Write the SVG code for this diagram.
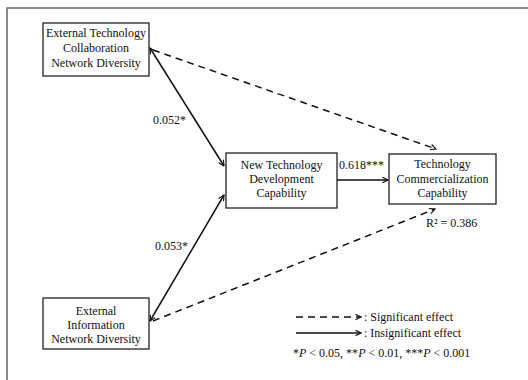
<svg xmlns="http://www.w3.org/2000/svg" width="528" height="380" viewBox="0 0 528 380">
<defs>
<marker id="ah" viewBox="0 0 10 10" refX="9" refY="5" markerWidth="7" markerHeight="7" orient="auto-start-reverse" markerUnits="userSpaceOnUse">
<path d="M1,1 L9,5 L1,9" fill="none" stroke="#111" stroke-width="1.6"/>
</marker>
</defs>
<style>
.box{fill:#fff;stroke:#222;stroke-width:1.3}
.t{font-family:"Liberation Serif","Times New Roman",serif;font-size:12px;fill:#111}
.c{text-anchor:middle}
.sol{stroke:#111;stroke-width:1.5;fill:none}
.dash{stroke:#111;stroke-width:1.5;fill:none;stroke-dasharray:7 5}
</style>
<rect width="528" height="380" fill="#fff"/>
<path d="M7,380 L7,8 L528,8" fill="none" stroke="#666" stroke-width="1.5"/>
<g id="connectors">
<line class="sol" x1="150" y1="48" x2="224" y2="166" marker-start="url(#ah)" marker-end="url(#ah)"/>
<line class="sol" x1="150" y1="321" x2="224" y2="195" marker-start="url(#ah)" marker-end="url(#ah)"/>
<line class="dash" x1="153" y1="50" x2="436" y2="149" marker-end="url(#ah)"/>
<line class="dash" x1="153" y1="321" x2="435" y2="209" marker-end="url(#ah)"/>
<line class="sol" x1="337" y1="180" x2="388" y2="180" marker-end="url(#ah)"/>
<text class="t" x="153" y="124">0.052*</text>
<text class="t" x="155" y="250">0.053*</text>
<text class="t" x="339" y="169">0.618***</text>
</g>
<g id="n1">
<rect class="box" x="43" y="23" width="106" height="53"/>
<text class="t c" x="96" y="37">External Technology</text>
<text class="t c" x="96" y="52">Collaboration</text>
<text class="t c" x="96" y="67">Network Diversity</text>
</g>
<g id="n2">
<rect class="box" x="226" y="153" width="111" height="55"/>
<text class="t c" x="281.5" y="169">New Technology</text>
<text class="t c" x="281.5" y="183">Development</text>
<text class="t c" x="281.5" y="197">Capability</text>
</g>
<g id="n3">
<rect class="box" x="389" y="154" width="107" height="50"/>
<text class="t c" x="442.5" y="168">Technology</text>
<text class="t c" x="442.5" y="183">Commercialization</text>
<text class="t c" x="442.5" y="197">Capability</text>
<text class="t" x="426" y="227">R² = 0.386</text>
</g>
<g id="n4">
<rect class="box" x="43" y="298" width="106" height="51"/>
<text class="t c" x="96" y="315">External</text>
<text class="t c" x="96" y="329">Information</text>
<text class="t c" x="96" y="343">Network Diversity</text>
</g>
<g id="legend">
<line class="dash" x1="296" y1="317" x2="361" y2="317" stroke-dasharray="6 4" marker-end="url(#ah)"/>
<text class="t" x="364" y="321">: Significant effect</text>
<line class="sol" x1="296" y1="333" x2="361" y2="333" marker-end="url(#ah)"/>
<text class="t" x="364" y="337">: Insignificant effect</text>
<text class="t" x="293" y="357">*<tspan font-style="italic">P</tspan> &lt; 0.05, **<tspan font-style="italic">P</tspan> &lt; 0.01, ***<tspan font-style="italic">P</tspan> &lt; 0.001</text>
</g>
</svg>
